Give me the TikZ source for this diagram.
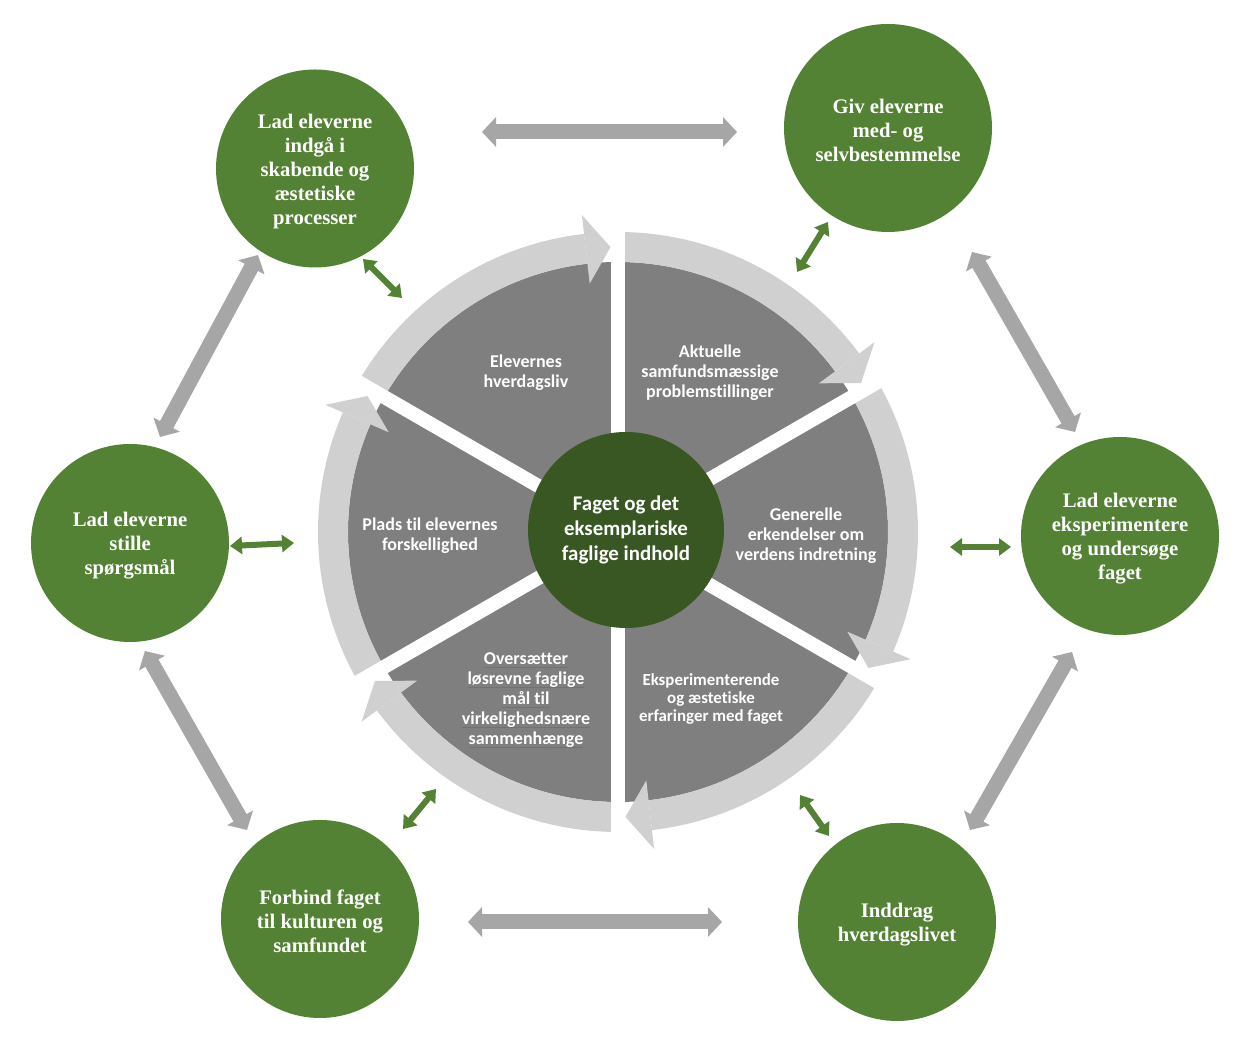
\documentclass[tikz,border=0pt]{standalone}
\usepackage{fontspec}
\setmainfont{Liberation Serif}
\newfontfamily\carlito[Ligatures=NoCommon]{Carlito}
\usetikzlibrary{arrows.meta}
\definecolor{cgreen}{HTML}{548235}
\definecolor{cdark}{HTML}{385723}
\definecolor{cslice}{HTML}{7F7F7F}
\definecolor{cband}{HTML}{D0D0D0}
\definecolor{carrow}{HTML}{A6A6A6}
\definecolor{cspell}{HTML}{D04848}
\newcommand\redul[1]{\setbox0\hbox{#1}\rlap{\color{cspell}\rule[-3pt]{\wd0}{0.6pt}}\box0}
\begin{document}
\begin{tikzpicture}[x=1pt,y=1pt,
  outer/.style={circle, fill=cgreen, minimum size=198pt, inner sep=0pt},
  outertxt/.style={text=white, align=center, inner sep=0pt, font=\fontsize{20.7}{24}\selectfont\bfseries},
  slicetxt/.style={text=white, align=center, font=\carlito\bfseries\fontsize{18}{20}\selectfont},
  grayarr/.style={draw=carrow, line width=15pt, {Triangle[length=14pt,width=29pt]}-{Triangle[length=14pt,width=29pt]}},
  greenarr/.style={draw=cgreen, line width=6pt, {Triangle[length=12pt,width=17pt]}-{Triangle[length=12pt,width=17pt]}},
]
\fill[white] (0,0) rectangle (1248,1054);
\useasboundingbox (0,0) rectangle (1248,1054);
\coordinate (W) at (618,522);
\begin{scope}[shift={(W)}]
  \fill[cslice] (0,0) circle[radius=270pt];
  \foreach \e in {90,30,-30,-90,-150,150}{
    \pgfmathsetmacro\s{\e+60}
    \pgfmathsetmacro\b{\e+6.5}
    \fill[cband] (\s:300pt) arc[start angle=\s, end angle=\b, radius=300pt] -- (\b:270pt) arc[start angle=\b, end angle=\s, radius=270pt] -- cycle;
  }
  \foreach \e in {90,30,-30,-90,-150,150}{
    \draw[white, line width=14pt] (0,0) -- (\e:325pt);
  }
  \foreach \e in {90,30,-30,-90,-150,150}{
    \pgfmathsetmacro\t{\e+1.5}
    \pgfmathsetmacro\b{\e+6.5}
    \fill[cband] (\t:285pt) -- (\b:319pt) -- (\b:250pt) -- cycle;
  }
\end{scope}
\node[circle, fill=cdark, minimum size=196pt, inner sep=0pt, text=white, align=center, font=\carlito\bfseries\fontsize{20.9}{25}\selectfont] (core) at (626,524) {Faget og det\\eksemplariske\\faglige indhold};
\node[slicetxt] (s1) at (526,681) {Elevernes\\hverdagsliv};
\node[slicetxt] (s2) at (710,681) {Aktuelle\\samfundsmæssige\\problemstillinger};
\node[slicetxt] (s3) at (806,518) {Generelle\\erkendelser om\\verdens indretning};
\node[slicetxt, font=\carlito\bfseries\fontsize{16.9}{18}\selectfont] (s4) at (711,355) {Eksperimenterende\\og æstetiske\\erfaringer med faget};
\node[slicetxt] (s5) at (526,354) {\redul{Oversætter}\\\redul{løsrevne faglige}\\\redul{mål til}\\\redul{virkelighedsnære}\\\redul{sammenhænge}};
\node[slicetxt] (s6) at (430,518) {Plads til elevernes\\forskellighed};
\node[outer] (c1) at (315,885.5) {};
\node[outer, minimum size=208pt] (c2) at (888,926) {};
\node[outer] (c3) at (1120,518) {};
\node[outer] (c4) at (897,132) {};
\node[outer] (c5) at (320,135) {};
\node[outer] (c6) at (130,511) {};
\node[outertxt] (t1) at ([yshift=-3.5pt]c1.center) {Lad eleverne\\indgå i\\skabende og\\æstetiske\\processer};
\node[outertxt] (t2) at ([yshift=-2.5pt]c2.center) {Giv eleverne\\med- og\\selvbestemmelse};
\node[outertxt] (t3) at ([yshift=-3pt]c3.center) {Lad eleverne\\eksperimentere\\og undersøge\\faget};
\node[outertxt] (t4) at ([yshift=-3pt]c4.center) {Inddrag\\hverdagslivet};
\node[outertxt] (t5) at ([yshift=-2pt]c5.center) {Forbind faget\\til kulturen og\\samfundet};
\node[outertxt] (t6) at ([yshift=-3pt]c6.center) {Lad eleverne\\stille\\spørgsmål};
% gray arrows
\coordinate (a1) at (482,922); \coordinate (a2) at (737,922);
\coordinate (b1) at (468,132); \coordinate (b2) at (722,132);
\coordinate (l1) at (258,799); \coordinate (l2) at (160,617);
\coordinate (m1) at (145,403); \coordinate (m2) at (247,224);
\coordinate (r1) at (972,802); \coordinate (r2) at (1075,622);
\coordinate (q1) at (1072,402); \coordinate (q2) at (970,224);
\draw[grayarr] (a1) -- (a2);
\draw[grayarr] (b1) -- (b2);
\draw[grayarr] (l1) -- (l2);
\draw[grayarr] (m1) -- (m2);
\draw[grayarr] (r1) -- (r2);
\draw[grayarr] (q1) -- (q2);
% green arrows
\coordinate (g1a) at (363,795); \coordinate (g1b) at (402,756);
\coordinate (g2a) at (797,782); \coordinate (g2b) at (828,832);
\coordinate (g3a) at (230,508); \coordinate (g3b) at (294,511);
\coordinate (g4a) at (950,507); \coordinate (g4b) at (1011,507);
\coordinate (g5a) at (403,225); \coordinate (g5b) at (436,265);
\coordinate (g6a) at (800,259); \coordinate (g6b) at (829,218);
\draw[greenarr] (g1a) -- (g1b);
\draw[greenarr] (g2a) -- (g2b);
\draw[greenarr] (g3a) -- (g3b);
\draw[greenarr] (g4a) -- (g4b);
\draw[greenarr] (g5a) -- (g5b);
\draw[greenarr] (g6a) -- (g6b);
\end{tikzpicture}
\end{document}
